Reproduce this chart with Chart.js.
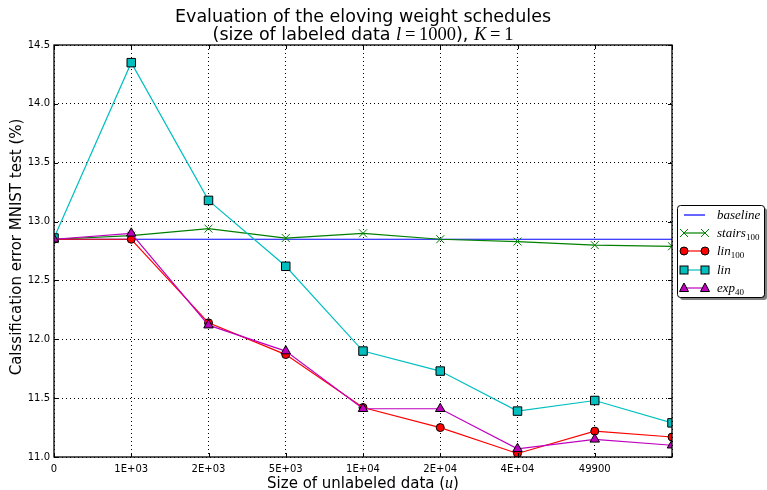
<!DOCTYPE html>
<html>
<head>
<meta charset="utf-8">
<script src="https://cdn.jsdelivr.net/npm/chart.js@4.4.1/dist/chart.umd.min.js"></script>
<style>
  html, body { margin: 0; padding: 0; background: #ffffff; }
  #wrap { width: 767px; height: 490px; }
</style>
</head>
<body>
<div id="wrap"><canvas id="chart" width="767" height="490"></canvas></div>
<script>
// Unlabeled-set sizes (the last position carries no tick label)
const categories = ['0', '1E+03', '2E+03', '5E+03', '1E+04', '2E+04', '4E+04', '49900', 'full'];
const xTickLabels = ['0', '1E+03', '2E+03', '5E+03', '1E+04', '2E+04', '4E+04', '49900', ''];
const yTickValues = [11.0, 11.5, 12.0, 12.5, 13.0, 13.5, 14.0, 14.5];

// Classification error (%) per weight schedule
const baseline  = [12.85, 12.85, 12.85, 12.85, 12.85, 12.85, 12.85, 12.85, 12.85];
const stairs100 = [12.85, 12.88, 12.94, 12.86, 12.90, 12.85, 12.83, 12.80, 12.79];
const lin100    = [12.85, 12.85, 12.14, 11.87, 11.42, 11.25, 11.03, 11.22, 11.17];
const lin       = [12.86, 14.35, 13.18, 12.62, 11.90, 11.73, 11.39, 11.48, 11.29];
const exp40     = [12.85, 12.90, 12.12, 11.90, 11.41, 11.41, 11.07, 11.15, 11.10];

const C_BLUE = '#0000ff', C_GREEN = '#008000', C_RED = '#ff0000', C_CYAN = '#00bfbf', C_MAG = '#bf00bf';

const SANS = '"DejaVu Sans", sans-serif';
const SERIF = '"Liberation Serif", "DejaVu Serif", serif';

// Draw a sequence of text runs, centered on cx
function drawRuns(ctx, runs, cx, baseY) {
  let total = 0;
  runs.forEach(r => { ctx.font = r.font; r.w = ctx.measureText(r.text).width; total += r.w; });
  let x = cx - total / 2;
  ctx.textAlign = 'left';
  ctx.textBaseline = 'alphabetic';
  runs.forEach(r => {
    ctx.font = r.font;
    ctx.fillText(r.text, x, baseY + (r.dy || 0));
    x += r.w;
  });
}
function drawRunsLeft(ctx, runs, x, baseY) {
  ctx.textAlign = 'left';
  ctx.textBaseline = 'alphabetic';
  runs.forEach(r => {
    ctx.font = r.font;
    ctx.fillText(r.text, x, baseY + (r.dy || 0));
    x += ctx.measureText(r.text).width;
  });
}

const decorations = {
  id: 'decorations',
  afterDraw(chart) {
    const ctx = chart.ctx;
    const a = chart.chartArea;
    const xs = chart.scales.x, ys = chart.scales.y;
    ctx.save();
    // frame
    ctx.strokeStyle = '#000';
    ctx.lineWidth = 1.3;
    ctx.strokeRect(a.left, a.top, a.right - a.left, a.bottom - a.top);
    // inward tick marks
    ctx.lineWidth = 1;
    ctx.beginPath();
    for (let i = 0; i < categories.length; i++) {
      const px = Math.round(xs.getPixelForValue(i)) + 0.5;
      ctx.moveTo(px, a.bottom); ctx.lineTo(px, a.bottom - 4);
      ctx.moveTo(px, a.top); ctx.lineTo(px, a.top + 4);
    }
    yTickValues.forEach(v => {
      const py = Math.round(ys.getPixelForValue(v)) + 0.5;
      ctx.moveTo(a.left, py); ctx.lineTo(a.left + 4, py);
      ctx.moveTo(a.right, py); ctx.lineTo(a.right - 4, py);
    });
    ctx.stroke();

    ctx.fillStyle = '#000';
    // title
    drawRuns(ctx, [{ text: 'Evaluation of the eloving weight schedules', font: '17.5px ' + SANS }], 363, 22);
    drawRuns(ctx, [
      { text: '(size of labeled data ', font: '17.5px ' + SANS },
      { text: 'l', font: 'italic 18.5px ' + SERIF },
      { text: '\u2009=\u20091000', font: '18.5px ' + SERIF },
      { text: '), ', font: '17.5px ' + SANS },
      { text: 'K', font: 'italic 18.5px ' + SERIF },
      { text: '\u2009=\u20091', font: '18.5px ' + SERIF }
    ], 363, 40);

    // x axis title
    drawRuns(ctx, [
      { text: 'Size of unlabeled data (', font: '15px ' + SANS },
      { text: 'u', font: 'italic 16px ' + SERIF },
      { text: ')', font: '15px ' + SANS }
    ], 363, 488);

    // y axis title
    ctx.save();
    ctx.translate(21, (a.top + a.bottom) / 2 - 4);
    ctx.rotate(-Math.PI / 2);
    ctx.font = '15px ' + SANS;
    ctx.textAlign = 'center';
    ctx.textBaseline = 'alphabetic';
    ctx.fillText('Calssification error MNIST test (%)', 0, 0);
    ctx.restore();

    // legend
    const bx = 677, by = 205, bw = 87, bh = 92, r = 3;
    const rr = (x, y, w, h) => {
      ctx.beginPath();
      ctx.moveTo(x + r, y);
      ctx.lineTo(x + w - r, y); ctx.quadraticCurveTo(x + w, y, x + w, y + r);
      ctx.lineTo(x + w, y + h - r); ctx.quadraticCurveTo(x + w, y + h, x + w - r, y + h);
      ctx.lineTo(x + r, y + h); ctx.quadraticCurveTo(x, y + h, x, y + h - r);
      ctx.lineTo(x, y + r); ctx.quadraticCurveTo(x, y, x + r, y);
      ctx.closePath();
    };
    ctx.fillStyle = '#7f7f7f';
    rr(bx + 3, by + 3, bw, bh); ctx.fill();
    ctx.fillStyle = '#fff';
    rr(bx, by, bw, bh); ctx.fill();
    ctx.strokeStyle = '#000'; ctx.lineWidth = 1;
    rr(bx + 0.5, by + 0.5, bw, bh); ctx.stroke();

    const entries = [
      { color: C_BLUE, marker: null, runs: [{ text: 'baseline', font: 'italic 13px ' + SERIF }] },
      { color: C_GREEN, marker: 'x', runs: [{ text: 'stairs', font: 'italic 13px ' + SERIF }, { text: '100', font: '9px ' + SERIF, dy: 3 }] },
      { color: C_RED, marker: 'o', runs: [{ text: 'lin', font: 'italic 13px ' + SERIF }, { text: '100', font: '9px ' + SERIF, dy: 3 }] },
      { color: C_CYAN, marker: 's', runs: [{ text: 'lin', font: 'italic 13px ' + SERIF }] },
      { color: C_MAG, marker: '^', runs: [{ text: 'exp', font: 'italic 13px ' + SERIF }, { text: '40', font: '9px ' + SERIF, dy: 3 }] }
    ];
    const rowsY = [215, 233, 251, 270, 288];
    const x0 = 684, x1 = 705;
    entries.forEach((e, i) => {
      const y = rowsY[i];
      ctx.strokeStyle = e.color; ctx.lineWidth = 1.2;
      ctx.beginPath(); ctx.moveTo(x0, y); ctx.lineTo(x1, y); ctx.stroke();
      [x0, x1].forEach(mx => {
        ctx.lineWidth = 1;
        if (e.marker === 'x') {
          ctx.strokeStyle = e.color;
          ctx.beginPath();
          ctx.moveTo(mx - 4, y - 4); ctx.lineTo(mx + 4, y + 4);
          ctx.moveTo(mx - 4, y + 4); ctx.lineTo(mx + 4, y - 4);
          ctx.stroke();
        } else if (e.marker === 'o') {
          ctx.fillStyle = e.color; ctx.strokeStyle = '#000';
          ctx.beginPath(); ctx.arc(mx, y, 4, 0, Math.PI * 2); ctx.fill(); ctx.stroke();
        } else if (e.marker === 's') {
          ctx.fillStyle = e.color; ctx.strokeStyle = '#000';
          ctx.fillRect(mx - 4, y - 4, 8, 8); ctx.strokeRect(mx - 4, y - 4, 8, 8);
        } else if (e.marker === '^') {
          ctx.fillStyle = e.color; ctx.strokeStyle = '#000';
          ctx.beginPath(); ctx.moveTo(mx, y - 5); ctx.lineTo(mx + 4.5, y + 3.5); ctx.lineTo(mx - 4.5, y + 3.5); ctx.closePath();
          ctx.fill(); ctx.stroke();
        }
      });
      ctx.fillStyle = '#000';
      drawRunsLeft(ctx, e.runs, 717, y + 4);
    });
    ctx.restore();
  }
};

function series(label, data, color, style, extra) {
  return Object.assign({
    label, data,
    borderColor: color,
    backgroundColor: color,
    borderWidth: 1.2,
    pointStyle: style,
    pointBorderColor: '#000',
    pointBorderWidth: 1,
    pointRadius: 0,
    pointHoverRadius: 0,
    tension: 0,
    clip: 0
  }, extra || {});
}

new Chart(document.getElementById('chart'), {
  type: 'line',
  data: {
    labels: categories,
    datasets: [
      series('baseline', baseline, C_BLUE, false, { order: 5 }),
      series('stairs100', stairs100, C_GREEN, 'crossRot', { order: 4, pointRadius: 5.6, pointBorderColor: C_GREEN }),
      series('lin100', lin100, C_RED, 'circle', { order: 3, pointRadius: 4 }),
      series('lin', lin, C_CYAN, 'rect', { order: 2, pointRadius: 6 }),
      series('exp40', exp40, C_MAG, 'triangle', { order: 1, pointRadius: 5.5 })
    ]
  },
  options: {
    responsive: false,
    animation: false,
    events: [],
    layout: { padding: { left: 0, right: 95, top: 45, bottom: 0 } },
    plugins: { legend: { display: false }, title: { display: false }, tooltip: { enabled: false } },
    scales: {
      x: {
        type: 'category',
        offset: false,
        afterFit(s) { s.height = 33; },
        grid: { color: '#000', lineWidth: 1, drawTicks: false, borderDash: [1, 3] },
        border: { display: false, dash: [1, 3] },
        ticks: {
          color: '#000', font: { family: SANS, size: 10 }, padding: 6,
          maxRotation: 0, autoSkip: false,
          callback: (v, i) => xTickLabels[i]
        }
      },
      y: {
        type: 'linear',
        min: 11.0, max: 14.5,
        afterFit(s) { s.width = 54; },
        afterBuildTicks(s) { s.ticks = yTickValues.map(v => ({ value: v })); },
        grid: { color: '#000', lineWidth: 1, drawTicks: false, borderDash: [1, 3] },
        border: { display: false, dash: [1, 3] },
        ticks: {
          color: '#000', font: { family: SANS, size: 10 }, padding: 4,
          callback: v => Number(v).toFixed(1)
        }
      }
    }
  },
  plugins: [decorations]
});
</script>
</body>
</html>
